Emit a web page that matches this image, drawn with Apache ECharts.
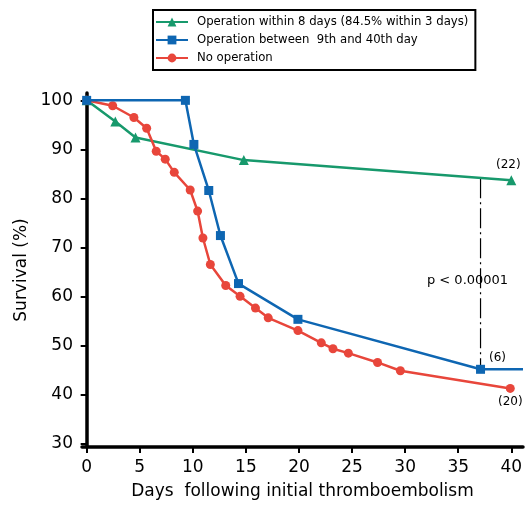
<!DOCTYPE html>
<html>
<head>
<meta charset="utf-8">
<script src="https://cdn.jsdelivr.net/npm/echarts@6/dist/echarts.min.js"></script>
<style>
  html, body { margin: 0; padding: 0; background: #fff; }
  #chart { width: 530px; height: 508px; }
</style>
</head>
<body>
<div id="chart"></div>
<script>
// survival curves
var earlyDays = [0, 2.7, 4.6, 14.8, 40];
var earlySurv = [100, 95.7, 92.4, 87.8, 83.7];

var lateDays = [0, 9.3, 10.1, 11.5, 12.6, 14.3, 19.9, 37.1, 41.1];
var lateSurv = [100, 100, 91.0, 81.6, 72.4, 62.6, 55.3, 45.1, 45.1];

var noOpDays = [0, 2.45, 4.45, 5.65, 6.55, 7.4, 8.25, 9.75, 10.45, 10.95, 11.65, 13.1, 14.45, 15.9, 17.1, 19.9, 22.1, 23.2, 24.65, 27.4, 29.55, 39.9];
var noOpSurv = [100, 98.9, 96.5, 94.3, 89.6, 88.0, 85.3, 81.7, 77.4, 71.9, 66.5, 62.2, 60.0, 57.6, 55.6, 53.0, 50.5, 49.3, 48.4, 46.5, 44.8, 41.2];

// dash-dot comparison line at day 37
var pLineDays = [37.1, 37.1];
var pLineSurv = [84.1, 45.1];
var pText = 'p < 0.00001';
var pTextSurv = 63.3;

var xTicks = [0, 5, 10, 15, 20, 25, 30, 35, 40];
var yTicks = [30, 40, 50, 60, 70, 80, 90, 100];

var names = ['Operation within 8 days (84.5% within 3 days)', 'Operation between  9th and 40th day', 'No operation'];
var colors = ['#17996c', '#0e66b2', '#e8463b'];

var font = 'DejaVu Sans';

function pairs(xs, ys) {
    var out = [];
    for (var i = 0; i < xs.length; i++) {
        out.push([xs[i], ys[i]]);
    }
    return out;
}

var earlyData = pairs(earlyDays, earlySurv);
earlyData[earlyData.length - 1] = {
    value: earlyData[earlyData.length - 1],
    label: { show: true, formatter: '(22)', position: 'top', distance: 4, offset: [-3, 0] }
};

var lateData = pairs(lateDays, lateSurv);
lateData[7] = {
    value: lateData[7],
    label: { show: true, formatter: '(6)', position: 'right', distance: 4, offset: [0, -11] }
};
// line runs on to the axis end without a marker
lateData[8] = { value: lateData[8], symbol: 'none' };

var noOpData = pairs(noOpDays, noOpSurv);
noOpData[noOpData.length - 1] = {
    value: noOpData[noOpData.length - 1],
    label: { show: true, formatter: '(20)', position: 'bottom', distance: 3 }
};

var pointLabel = { color: '#000', fontFamily: font, fontSize: 12 };

var chart = echarts.init(document.getElementById('chart'));

var option = {
    animation: false,
    textStyle: { fontFamily: font, color: '#000' },
    legend: {
        data: names,
        orient: 'vertical',
        left: 153,
        top: 10,
        padding: [5, 7, 5, 2],
        itemWidth: 32,
        itemHeight: 11,
        itemGap: 4,
        borderColor: '#000',
        borderWidth: 2,
        selectedMode: false,
        textStyle: { fontFamily: font, fontSize: 11.7, color: '#000', lineHeight: 14, padding: [0, 0, 0, 4] }
    },
    grid: {
        left: 82,
        right: 7,
        top: 93,
        bottom: 61
    },
    xAxis: {
        type: 'value',
        min: -0.44,
        max: 41.1,
        name: 'Days  following initial thromboembolism',
        nameLocation: 'middle',
        nameGap: 36,
        nameTextStyle: { fontFamily: font, fontSize: 17, color: '#000' },
        splitLine: { show: false },
        axisLine: { lineStyle: { color: '#000', width: 3.5 } },
        axisTick: { customValues: xTicks, length: 6, lineStyle: { color: '#000', width: 2 } },
        axisLabel: { customValues: xTicks, margin: 12, fontFamily: font, fontSize: 17, color: '#000' }
    },
    yAxis: {
        type: 'value',
        min: 29.24,
        max: 101.5,
        name: 'Survival (%)',
        nameLocation: 'middle',
        nameGap: 47,
        nameTextStyle: { fontFamily: font, fontSize: 17, color: '#000' },
        splitLine: { show: false },
        axisLine: { show: true, lineStyle: { color: '#000', width: 3.5 } },
        axisTick: { show: true, customValues: yTicks, length: 6, lineStyle: { color: '#000', width: 2 } },
        axisLabel: { customValues: yTicks, margin: 9, fontFamily: font, fontSize: 17, color: '#000' }
    },
    series: [
        {
            name: names[0],
            type: 'line',
            data: earlyData,
            symbol: 'triangle',
            symbolSize: 10,
            color: colors[0],
            lineStyle: { width: 2.5 },
            label: pointLabel,
            z: 2
        },
        {
            name: names[2],
            type: 'line',
            data: noOpData,
            symbol: 'circle',
            symbolSize: 9,
            color: colors[2],
            lineStyle: { width: 2.5 },
            label: pointLabel,
            z: 3
        },
        {
            name: names[1],
            type: 'line',
            data: lateData,
            symbol: 'rect',
            symbolSize: 9,
            color: colors[1],
            lineStyle: { width: 2.5 },
            label: pointLabel,
            z: 4
        },
        {
            name: 'p',
            type: 'line',
            data: pairs(pLineDays, pLineSurv),
            symbol: 'none',
            color: '#000',
            lineStyle: { width: 1.2, type: [20, 4, 2, 4] },
            z: 1,
            markPoint: {
                symbol: 'circle',
                symbolSize: 0,
                data: [{ coord: [pLineDays[0], pTextSurv] }],
                label: {
                    show: true,
                    formatter: pText,
                    position: 'inside',
                    offset: [-13, 0],
                    fontFamily: font,
                    fontSize: 13,
                    color: '#000'
                }
            }
        }
    ]
};

chart.setOption(option);
</script>
</body>
</html>
